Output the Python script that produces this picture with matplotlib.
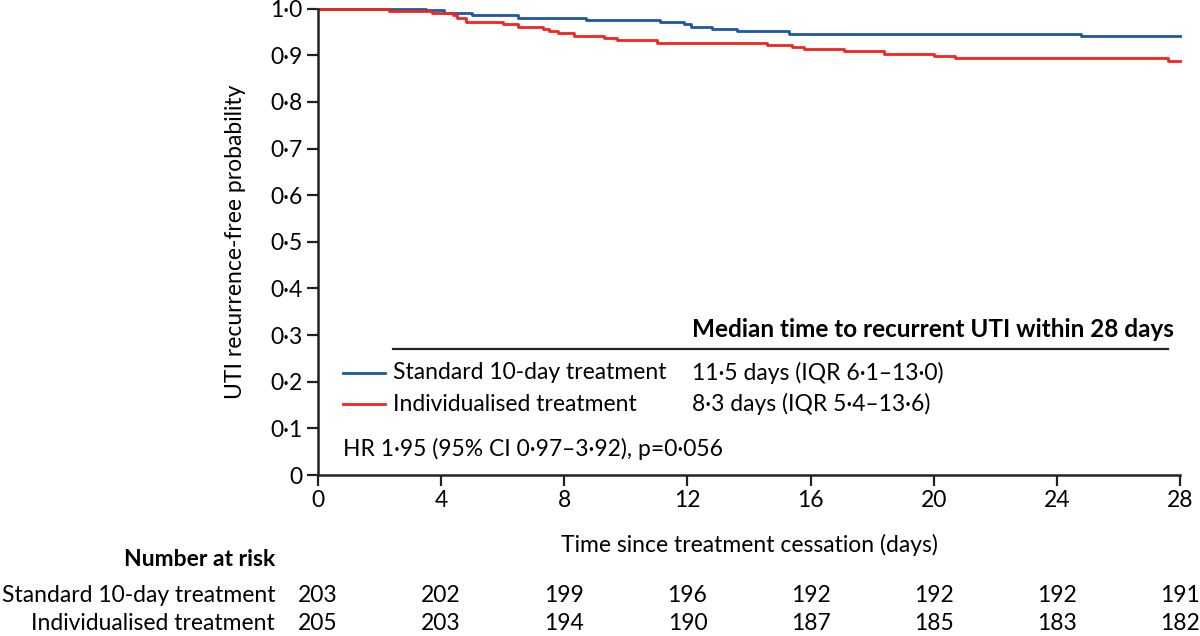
import matplotlib
matplotlib.use("Agg")
import matplotlib.pyplot as plt
import matplotlib.transforms as mtransforms

plt.rcParams['font.family'] = ['Lato', 'DejaVu Sans']

# ---------- Data ----------
std_times = [0, 3.5, 4.1, 5.0, 6.5, 8.7, 11.1, 11.9, 12.1, 12.8, 13.6, 15.3, 24.8, 28]
std_surv = [1.0, 0.997, 0.991, 0.986, 0.981, 0.976, 0.971, 0.967, 0.961, 0.956, 0.952, 0.946, 0.941, 0.941]

ind_times = [0, 2.3, 3.7, 4.4, 4.5, 4.8, 6.0, 6.5, 7.3, 7.5, 7.8, 8.3, 9.3, 9.7, 11.0,
             14.6, 15.4, 15.8, 17.1, 18.4, 20.0, 20.7, 27.6, 28]
ind_surv = [1.0, 0.996, 0.990, 0.986, 0.981, 0.971, 0.967, 0.961, 0.956, 0.952, 0.947, 0.942,
            0.937, 0.932, 0.927, 0.923, 0.918, 0.913, 0.909, 0.903, 0.899, 0.894, 0.888, 0.888]

x_ticks = [0, 4, 8, 12, 16, 20, 24, 28]
y_ticks = [0, 0.1, 0.2, 0.3, 0.4, 0.5, 0.6, 0.7, 0.8, 0.9, 1.0]
y_labels = ["0", "0·1", "0·2", "0·3", "0·4", "0·5", "0·6", "0·7", "0·8", "0·9", "1·0"]

risk_std = [203, 202, 199, 196, 192, 192, 192, 191]
risk_ind = [205, 203, 194, 190, 187, 185, 183, 182]

std_name = "Standard 10-day treatment"
ind_name = "Individualised treatment"
std_median = "11·5 days (IQR 6·1–13·0)"
ind_median = "8·3 days (IQR 5·4–13·6)"
hr_text = "HR 1·95 (95% CI 0·97–3·92), p=0·056"

BLUE = '#1f56a6'
RED = '#f2251e'
FS = 16.5

# ---------- Plot ----------
fig = plt.figure(figsize=(12, 6.36), dpi=100)
ax = fig.add_axes([318 / 1200, 1 - 475 / 636, 862 / 1200, 466.3 / 636])

ax.step(std_times, std_surv, where='post', color=BLUE, lw=2.0, clip_on=False)
ax.step(ind_times, ind_surv, where='post', color=RED, lw=2.0, clip_on=False)

ax.set_xlim(0, 28)
ax.set_ylim(0, 1.0)
ax.set_xticks(x_ticks)
ax.set_xticklabels([str(t) for t in x_ticks])
ax.set_yticks(y_ticks)
ax.set_yticklabels(y_labels)
ax.tick_params(direction='out', length=8, width=1.6, labelsize=FS, pad=3, color='#222222')
for s in ['top', 'right']:
    ax.spines[s].set_visible(False)
for s in ['left', 'bottom']:
    ax.spines[s].set_linewidth(1.8)
    ax.spines[s].set_color('#222222')

fig.text(235 / 1200, 1 - 242 / 636, "UTI recurrence-free probability", rotation=90,
         ha='center', va='center', fontsize=FS)
fig.text(749 / 1200, 1 - 545 / 636, "Time since treatment cessation (days)",
         ha='center', va='center', fontsize=FS)

# legend block
ax.text(12.15, 0.311, "Median time to recurrent UTI within 28 days", fontsize=17.5,
        fontweight='bold', ha='left', va='center')
ax.plot([2.44, 27.6], [0.270, 0.270], color='#222222', lw=1.6, clip_on=False)
ax.plot([0.81, 2.18], [0.219, 0.219], color=BLUE, lw=2.0)
ax.plot([0.81, 2.18], [0.152, 0.152], color=RED, lw=2.0)
ax.text(2.44, 0.219, std_name, fontsize=FS, ha='left', va='center')
ax.text(2.44, 0.152, ind_name, fontsize=FS, ha='left', va='center')
ax.text(12.15, 0.219, std_median, fontsize=FS, ha='left', va='center')
ax.text(12.15, 0.152, ind_median, fontsize=FS, ha='left', va='center')
ax.text(0.81, 0.056, hr_text, fontsize=FS, ha='left', va='center')

# number at risk table
trans = mtransforms.blended_transform_factory(ax.transData, fig.transFigure)
fig.text(275 / 1200, 1 - 560 / 636, "Number at risk", fontsize=FS, fontweight='bold',
         ha='right', va='center')
fig.text(275 / 1200, 1 - 595 / 636, std_name, fontsize=FS, ha='right', va='center')
fig.text(275 / 1200, 1 - 623 / 636, ind_name, fontsize=FS, ha='right', va='center')
for t, a, b in zip(x_ticks, risk_std, risk_ind):
    ax.text(t, 1 - 595 / 636, str(a), transform=trans, fontsize=FS, ha='center', va='center')
    ax.text(t, 1 - 623 / 636, str(b), transform=trans, fontsize=FS, ha='center', va='center')

fig.savefig("out.png", dpi=100)
